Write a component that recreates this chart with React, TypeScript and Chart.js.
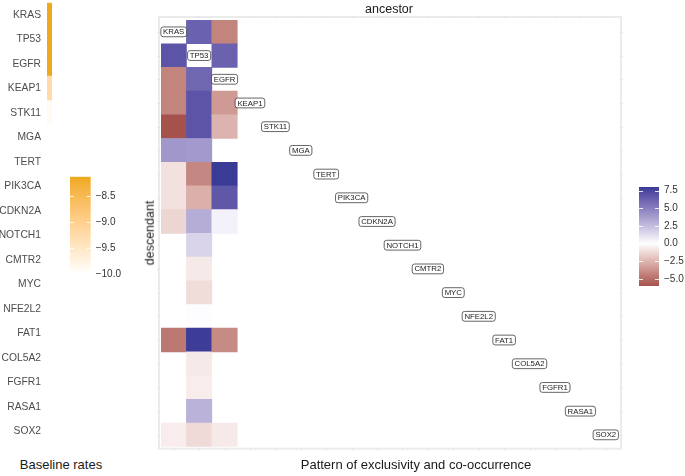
import React, { useEffect, useRef } from 'react';
import { Chart, registerables } from 'chart.js';

Chart.register(...registerables);

// ---------------- data ----------------
const genes = ['KRAS', 'TP53', 'EGFR', 'KEAP1', 'STK11', 'MGA', 'TERT', 'PIK3CA', 'CDKN2A', 'NOTCH1', 'CMTR2', 'MYC', 'NFE2L2', 'FAT1', 'COL5A2', 'FGFR1', 'RASA1', 'SOX2'];
const ancestors = genes;

// baseline rates (log scale) per gene
const baselineRates = [-8.13, -8.13, -8.14, -9.23, -9.9, -10, -10, -10, -10, -10, -10, -10, -10, -10, -10, -10, -10, -10];
const baselineTicks = [-10, -9.5, -9, -8.5];

// exclusivity / co-occurrence score, per descendant row, for each ancestor column
const fromKRAS = [null, 6.8, -4.2, -4.2, -6.0, 4.0, -1.0, -1.0, -1.4, null, null, null, null, -4.65, null, null, null, -0.6];
const fromTP53 = [6.2, null, 6.0, 6.8, 6.8, 3.9, -4.1, -2.7, 3.1, 1.6, -0.7, -1.15, 0.1, 7.9, -0.7, -0.6, 2.9, -1.25];
const fromEGFR = [-4.2, 6.2, null, -3.47, -2.56, null, 8.0, 6.7, 0.5, null, null, null, null, -3.97, null, null, null, -0.7];
const scoreTicks = [-5, -2.5, 0, 2.5, 5, 7.5];

// ---------------- styling ----------------
const FONT = "'Liberation Sans', Arial, Helvetica, sans-serif";
const ORANGE = '#F0A91C';
const BLUE = '#3A3A97';
const RED = '#A5524D';
const WHITE = '#FFFFFF';

function hexToRgb(hex: string): number[] {
  const n = parseInt(hex.slice(1), 16);
  return [(n >> 16) & 255, (n >> 8) & 255, n & 255];
}
function toLin(c: number) {
  c /= 255;
  return c <= 0.04045 ? c / 12.92 : Math.pow((c + 0.055) / 1.055, 2.4);
}
function fromLin(c: number) {
  c = Math.max(0, Math.min(1, c));
  const v = c <= 0.0031308 ? 12.92 * c : 1.055 * Math.pow(c, 1 / 2.4) - 0.055;
  return Math.round(Math.max(0, Math.min(1, v)) * 255);
}
const Xn = 0.95047, Zn = 1.08883;
const fLab = (t: number) => (t > 0.008856 ? Math.cbrt(t) : 7.787 * t + 16 / 116);
const fInv = (t: number) => (t > 0.206893 ? t * t * t : (t - 16 / 116) / 7.787);
function rgbToLab(rgb: number[]) {
  const [r, g, b] = rgb.map(toLin);
  const X = (0.4124 * r + 0.3576 * g + 0.1805 * b) / Xn;
  const Y = 0.2126 * r + 0.7152 * g + 0.0722 * b;
  const Z = (0.0193 * r + 0.1192 * g + 0.9505 * b) / Zn;
  const fx = fLab(X), fy = fLab(Y), fz = fLab(Z);
  return [116 * fy - 16, 500 * (fx - fy), 200 * (fy - fz)];
}
function labToRgb(lab: number[]) {
  const [L, a, b] = lab;
  const fy = (L + 16) / 116, fx = fy + a / 500, fz = fy - b / 200;
  const X = fInv(fx) * Xn, Y = fInv(fy), Z = fInv(fz) * Zn;
  const r = 3.2406 * X - 1.5372 * Y - 0.4986 * Z;
  const g = -0.9689 * X + 1.8758 * Y + 0.0415 * Z;
  const bb = 0.0557 * X - 0.204 * Y + 1.057 * Z;
  return [fromLin(r), fromLin(g), fromLin(bb)];
}
function mixLab(c1: string, c2: string, t: number) {
  t = Math.max(0, Math.min(1, t));
  const a = rgbToLab(hexToRgb(c1)), b = rgbToLab(hexToRgb(c2));
  const [r, g, bl] = labToRgb(a.map((v, i) => v + (b[i] - v) * t));
  return `rgb(${r},${g},${bl})`;
}

const bMin = Math.min(...baselineRates);
const bMax = Math.max(...baselineRates);
const baselineColor = (v: number) => mixLab(WHITE, ORANGE, (v - bMin) / (bMax - bMin));

const allScores = [...fromKRAS, ...fromTP53, ...fromEGFR].filter((v) => v !== null) as number[];
const sMin = Math.min(...allScores);
const sMax = Math.max(...allScores);
const scoreColor = (v: number) => (v >= 0 ? mixLab(WHITE, BLUE, v / sMax) : mixLab(WHITE, RED, v / sMin));

const fmtTick = (v: number) => Number(v).toFixed(1).replace('-', '\u2212');

// white tick marks drawn across the colour bars
const colorbarTicks = {
  id: 'colorbarTicks',
  afterDatasetsDraw(chart: any) {
    const y = chart.scales.y;
    const { left, right } = chart.chartArea;
    const ctx = chart.ctx;
    ctx.save();
    ctx.strokeStyle = 'rgba(255,255,255,0.85)';
    ctx.lineWidth = 1;
    y.ticks.forEach((t: any) => {
      const py = Math.round(y.getPixelForValue(t.value)) + 0.5;
      ctx.beginPath();
      ctx.moveTo(left, py);
      ctx.lineTo(left + 4, py);
      ctx.moveTo(right - 4, py);
      ctx.lineTo(right, py);
      ctx.stroke();
    });
    ctx.restore();
  },
};

function gradientFill(lo: number, hi: number, colorFn: (v: number) => string) {
  return (ctx: any) => {
    const chart = ctx.chart;
    if (!chart.chartArea) return colorFn(hi);
    const y = chart.scales.y;
    const g = chart.ctx.createLinearGradient(0, y.getPixelForValue(lo), 0, y.getPixelForValue(hi));
    const n = 40;
    for (let i = 0; i <= n; i++) {
      const t = i / n;
      g.addColorStop(t, colorFn(lo + t * (hi - lo)));
    }
    return g;
  };
}

// labels on the diagonal + light panel frame
const heatmapDecor = {
  id: 'heatmapDecor',
  afterDatasetsDraw(chart: any) {
    const ctx = chart.ctx;
    const x = chart.scales.x;
    const y = chart.scales.y;
    const a = chart.chartArea;
    ctx.save();
    // frame
    const L = a.left - 2, T = a.top - 3, R = a.right + 2.5, B = a.bottom + 2;
    ctx.strokeStyle = '#EBEBEB';
    ctx.lineWidth = 2;
    ctx.strokeRect(L, T, R - L, B - T);
    ctx.strokeStyle = '#E2E2E2';
    ctx.lineWidth = 1;
    ancestors.forEach((_, i) => {
      const px = Math.round(x.getPixelForValue(i)) + 0.5;
      ctx.beginPath();
      ctx.moveTo(px, B - 1);
      ctx.lineTo(px, B + 1.5);
      ctx.moveTo(px, T + 1);
      ctx.lineTo(px, T - 1.5);
      ctx.stroke();
    });
    genes.forEach((_, i) => {
      const py = Math.round(y.getPixelForValue(i + 0.5)) + 0.5;
      ctx.beginPath();
      ctx.moveTo(L - 1.5, py);
      ctx.lineTo(L + 1, py);
      ctx.moveTo(R - 1, py);
      ctx.lineTo(R + 1.5, py);
      ctx.stroke();
    });
    // diagonal labels
    ctx.font = `7.8px ${FONT}`;
    ctx.textAlign = 'center';
    ctx.textBaseline = 'middle';
    genes.forEach((g, i) => {
      const cx = x.getPixelForValue(i);
      const cy = y.getPixelForValue(i + 0.5);
      const w = ctx.measureText(g).width + 4.5;
      const h = 9.8;
      ctx.beginPath();
      (ctx as any).roundRect(cx - w / 2, cy - h / 2, w, h, 2.4);
      ctx.fillStyle = '#FFFFFF';
      ctx.fill();
      ctx.strokeStyle = '#333333';
      ctx.lineWidth = 0.75;
      ctx.stroke();
      ctx.fillStyle = '#1A1A1A';
      ctx.fillText(g, cx, cy + 0.4);
    });
    ctx.restore();
  },
};

function useChart(ref: React.RefObject<HTMLCanvasElement>, make: () => any) {
  useEffect(() => {
    if (!ref.current) return;
    const chart = new Chart(ref.current, make());
    return () => chart.destroy();
  }, []);
}

const common = {
  animation: false,
  responsive: false,
  devicePixelRatio: 1,
  events: [],
};

const noAxisPadding = (s: any, width: number) => {
  s.width = width;
  s.paddingTop = 0;
  s.paddingBottom = 0;
};

export default function App() {
  const baseRef = useRef<HTMLCanvasElement>(null);
  const baseBarRef = useRef<HTMLCanvasElement>(null);
  const heatRef = useRef<HTMLCanvasElement>(null);
  const scoreBarRef = useRef<HTMLCanvasElement>(null);

  // baseline rate strip with gene labels
  useChart(baseRef, () => ({
    type: 'bar',
    data: {
      labels: genes,
      datasets: [
        {
          data: genes.map((g, i) => ({ y: g, x: [0, 1], v: baselineRates[i] })),
          backgroundColor: (ctx: any) => (ctx.raw ? baselineColor(ctx.raw.v) : WHITE),
          barPercentage: 1,
          categoryPercentage: 1,
          borderWidth: 0,
        },
      ],
    },
    options: {
      ...common,
      indexAxis: 'y',
      layout: { padding: { left: 0, right: 8, top: 2.7, bottom: 6.3 } },
      plugins: { legend: { display: false }, tooltip: { enabled: false } },
      scales: {
        y: {
          type: 'category',
          labels: genes,
          offset: true,
          grid: { display: false, drawTicks: false },
          border: { display: false },
          ticks: { color: '#4D4D4D', font: { family: FONT, size: 10.3 }, padding: 6 },
          afterFit: (s: any) => noAxisPadding(s, 47),
        },
        x: { type: 'linear', min: 0, max: 1, display: false },
      },
    },
  }));

  // baseline colour bar
  useChart(baseBarRef, () => ({
    type: 'bar',
    data: {
      labels: [''],
      datasets: [
        {
          data: [[bMin, bMax]],
          backgroundColor: gradientFill(bMin, bMax, baselineColor),
          barPercentage: 1,
          categoryPercentage: 1,
          borderWidth: 0,
        },
      ],
    },
    options: {
      ...common,
      layout: { padding: { left: 10, right: 0, top: 16.7, bottom: 16 } },
      plugins: { legend: { display: false }, tooltip: { enabled: false } },
      scales: {
        x: { display: false, offset: true },
        y: {
          type: 'linear',
          position: 'right',
          min: bMin,
          max: bMax,
          afterBuildTicks: (s: any) => {
            s.ticks = baselineTicks.map((v) => ({ value: v }));
          },
          grid: { display: false, drawTicks: false },
          border: { display: false },
          ticks: { callback: (v: any) => fmtTick(v), color: '#333333', font: { family: FONT, size: 10 }, padding: 5 },
          afterFit: (s: any) => noAxisPadding(s, 39.3),
        },
      },
    },
    plugins: [colorbarTicks],
  }));

  // heatmap
  useChart(heatRef, () => {
    const columns = [fromKRAS, fromTP53, fromEGFR];
    const cells: any[] = [];
    columns.forEach((col, c) => {
      col.forEach((v, r) => {
        if (v !== null) cells.push({ x: ancestors[c], y: [r, r + 1], v });
      });
    });
    return {
      type: 'bar',
      data: {
        labels: ancestors,
        datasets: [
          {
            data: cells,
            backgroundColor: (ctx: any) => (ctx.raw ? scoreColor(ctx.raw.v) : WHITE),
            barPercentage: 1,
            categoryPercentage: 1,
            borderWidth: 0,
          },
        ],
      },
      options: {
        ...common,
        layout: { padding: { left: 21, right: 11.5, top: 20, bottom: 29.3 } },
        plugins: { legend: { display: false }, tooltip: { enabled: false } },
        scales: {
          x: { type: 'category', labels: ancestors, offset: true, display: false },
          y: { type: 'linear', min: 0, max: genes.length, reverse: true, display: false },
        },
      },
      plugins: [heatmapDecor],
    };
  });

  // score colour bar
  useChart(scoreBarRef, () => ({
    type: 'bar',
    data: {
      labels: [''],
      datasets: [
        {
          data: [[sMin, sMax]],
          backgroundColor: gradientFill(sMin, sMax, scoreColor),
          barPercentage: 1,
          categoryPercentage: 1,
          borderWidth: 0,
        },
      ],
    },
    options: {
      ...common,
      layout: { padding: { left: 39, right: 0, top: 17, bottom: 14 } },
      plugins: { legend: { display: false }, tooltip: { enabled: false } },
      scales: {
        x: { display: false, offset: true },
        y: {
          type: 'linear',
          position: 'right',
          min: sMin,
          max: sMax,
          afterBuildTicks: (s: any) => {
            s.ticks = scoreTicks.map((v) => ({ value: v }));
          },
          grid: { display: false, drawTicks: false },
          border: { display: false },
          ticks: { callback: (v: any) => fmtTick(v), color: '#333333', font: { family: FONT, size: 10 }, padding: 5 },
          afterFit: (s: any) => noAxisPadding(s, 26),
        },
      },
    },
    plugins: [colorbarTicks],
  }));

  const abs = (left: number, top: number, width: number, height: number): React.CSSProperties => ({
    position: 'absolute',
    left,
    top,
    width,
    height,
    display: 'block',
  });
  const label = (left: number, top: number, size: number, rotate = false): React.CSSProperties => ({
    position: 'absolute',
    left,
    top,
    transform: `translate(-50%, -50%)${rotate ? ' rotate(-90deg)' : ''}`,
    fontSize: size,
    lineHeight: 1,
    whiteSpace: 'nowrap',
    color: '#1A1A1A',
    fontFamily: FONT,
  });

  return (
    <div style={{ position: 'fixed', left: 0, top: 0, width: 685, height: 476, background: '#FFFFFF', overflow: 'hidden' }}>
      <canvas ref={baseRef} width={60} height={450} style={abs(0, 0, 60, 450)} />
      <canvas ref={baseBarRef} width={70} height={130} style={abs(60, 160, 70, 130)} />
      <canvas ref={heatRef} width={490} height={476} style={abs(140, 0, 490, 476)} />
      <canvas ref={scoreBarRef} width={85} height={130} style={abs(600, 170, 85, 130)} />
      <div style={label(389, 9, 12.5)}>ancestor</div>
      <div style={label(150, 233, 12.5, true)}>descendant</div>
      <div style={label(61, 464, 13)}>Baseline rates</div>
      <div style={label(416, 464, 13)}>Pattern of exclusivity and co-occurrence</div>
    </div>
  );
}
